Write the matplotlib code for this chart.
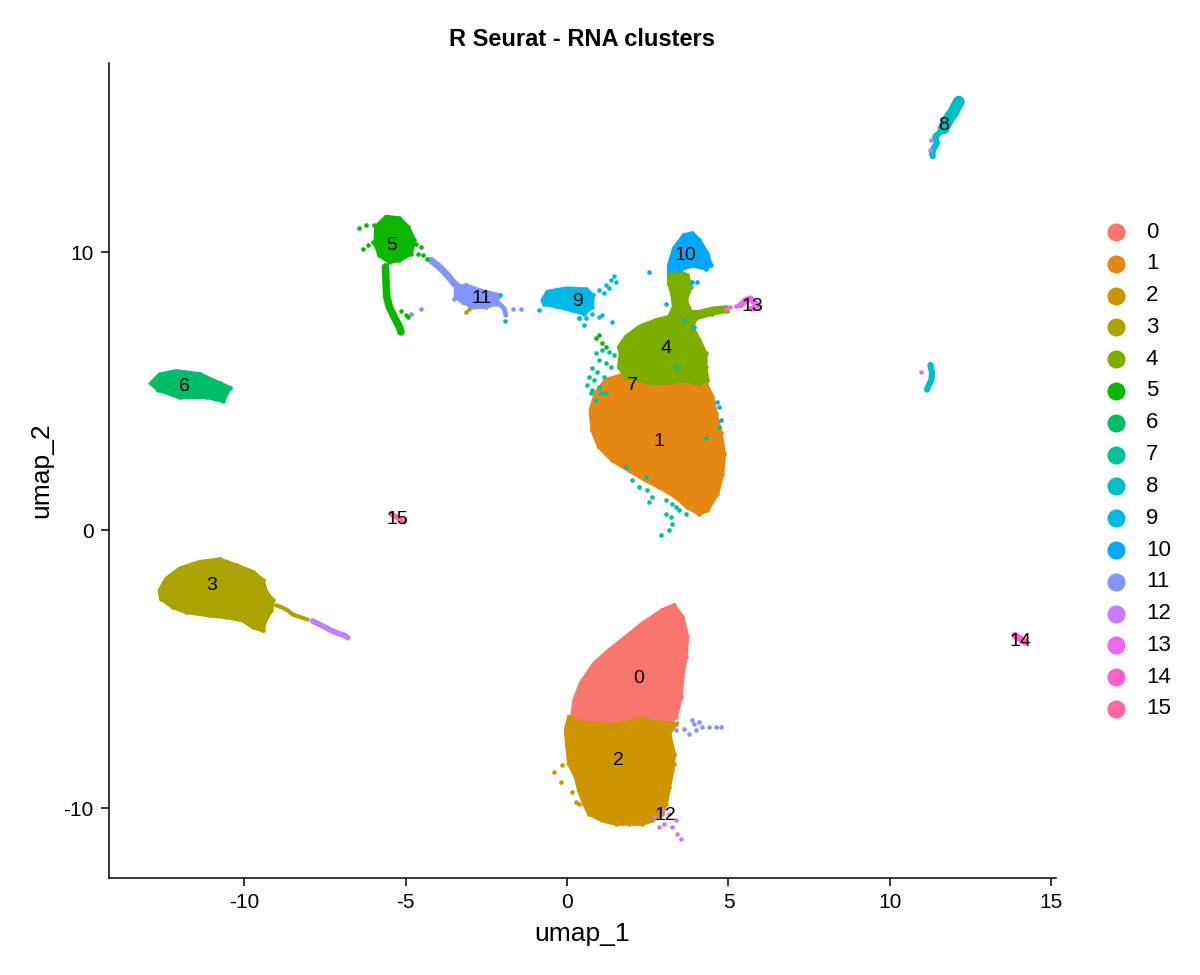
import numpy as np
import matplotlib
matplotlib.use("Agg")
import matplotlib.pyplot as plt
from matplotlib.lines import Line2D

plt.rcParams['font.family'] = ['Liberation Sans', 'DejaVu Sans']
plt.rcParams['axes.unicode_minus'] = False

# ggplot hue palette for 16 clusters
PALETTE = ["#F8766D", "#E68613", "#CD9600", "#ABA300", "#7CAE00", "#0CB702",
           "#00BE67", "#00C19A", "#00BFC4", "#00B8E7", "#00A9FF", "#8494FF",
           "#C77CFF", "#ED68ED", "#FF61CC", "#FF68A1"]
CLUSTERS = [str(i) for i in range(16)]

# cluster label positions (medians)
LABEL_X = [2.23, 2.85, 1.58, -11.02, 3.07, -5.45, -11.86, 2.01, 11.67, 0.31, 3.65, -2.66, 3.03, 5.73, 14.06, -5.26]
LABEL_Y = [-5.32, 3.20, -8.27, -1.98, 6.55, 10.25, 5.18, 5.22, 14.57, 8.24, 9.89, 8.35, -10.25, 8.06, -3.99, 0.40]

# dense region outlines, per cluster
BLOB_0 = [(0.16, -6.72), (0.22, -6.12), (0.42, -5.51), (0.84, -4.79), (1.30, -4.32), (1.82, -3.84),
          (2.33, -3.36), (2.95, -2.88), (3.31, -2.70), (3.57, -3.12), (3.72, -3.84), (3.67, -4.56),
          (3.57, -5.28), (3.52, -6.00), (3.37, -6.72), (3.11, -6.95), (2.75, -6.90), (2.33, -6.77),
          (1.92, -6.90), (1.40, -7.01), (0.78, -6.95), (0.37, -6.90)]
BLOB_1 = [(1.20, 5.40), (1.71, 5.58), (2.33, 5.40), (2.85, 5.28), (3.37, 5.40), (3.88, 5.51),
          (4.29, 5.28), (4.50, 4.79), (4.60, 4.20), (4.76, 3.48), (4.86, 2.76), (4.81, 2.04),
          (4.65, 1.32), (4.34, 0.72), (4.09, 0.60), (3.72, 0.84), (3.37, 1.20), (2.85, 1.56),
          (2.44, 1.80), (1.92, 2.16), (1.40, 2.52), (0.99, 3.00), (0.78, 3.60), (0.73, 4.32), (0.89, 4.92)]
BLOB_2 = [(0.06, -6.72), (0.37, -6.90), (0.78, -6.95), (1.40, -7.01), (1.92, -6.90), (2.33, -6.77),
          (2.75, -6.90), (3.11, -6.95), (3.37, -6.95), (3.16, -7.31), (3.31, -8.03), (3.26, -8.63),
          (3.16, -9.23), (3.06, -9.83), (2.95, -10.19), (2.64, -10.43), (2.33, -10.55), (1.92, -10.55),
          (1.51, -10.55), (1.09, -10.43), (0.68, -10.19), (0.53, -9.83), (0.37, -9.35), (0.27, -8.87),
          (0.06, -8.39), (0.01, -7.79), (-0.04, -7.19)]
BLOB_3 = [(-12.63, -2.16), (-12.42, -1.74), (-12.01, -1.38), (-11.39, -1.14), (-10.77, -1.05),
          (-10.26, -1.26), (-9.74, -1.50), (-9.43, -1.80), (-9.33, -2.22), (-9.12, -2.52), (-9.17, -2.88),
          (-9.38, -3.30), (-9.43, -3.60), (-9.74, -3.48), (-10.05, -3.24), (-10.57, -3.12), (-11.08, -3.06),
          (-11.80, -2.94), (-12.22, -2.76), (-12.58, -2.46)]
BLOB_4 = [(3.16, 9.23), (3.47, 9.29), (3.72, 9.17), (3.83, 8.75), (3.67, 8.27), (3.83, 7.85), (4.09, 7.85),
          (4.50, 7.97), (4.91, 8.01), (4.96, 7.89), (4.50, 7.79), (3.98, 7.62), (3.88, 7.31), (4.09, 6.83),
          (4.29, 6.36), (4.29, 5.87), (4.34, 5.40), (4.09, 5.28), (3.57, 5.40), (3.16, 5.33), (2.64, 5.28),
          (2.23, 5.40), (1.82, 5.51), (1.61, 5.87), (1.66, 6.36), (1.61, 6.59), (1.82, 6.95), (2.23, 7.31),
          (2.75, 7.55), (3.16, 7.67), (3.31, 8.03), (3.26, 8.51), (3.16, 8.87)]
BLOB_5 = [(-5.92, 10.91), (-5.61, 11.27), (-5.20, 11.21), (-4.94, 10.91), (-4.74, 10.43), (-4.84, 9.95),
          (-5.20, 9.71), (-5.51, 9.65), (-5.82, 9.89), (-5.94, 10.31)]
BLOB_6 = [(-12.89, 5.28), (-12.63, 5.60), (-12.11, 5.72), (-11.39, 5.61), (-10.77, 5.28), (-10.46, 5.12),
          (-10.67, 4.65), (-11.19, 4.80), (-12.01, 4.78), (-12.68, 5.06)]
BLOB_9 = [(-0.76, 8.27), (-0.61, 8.57), (-0.04, 8.69), (0.58, 8.66), (0.80, 8.45), (0.76, 8.03),
          (0.53, 7.79), (0.16, 7.91), (-0.35, 8.06), (-0.71, 8.13)]
BLOB_10 = [(3.16, 9.53), (3.31, 10.13), (3.62, 10.61), (3.88, 10.67), (4.09, 10.43), (4.34, 9.95),
           (4.45, 9.53), (4.29, 9.41), (3.88, 9.53), (3.47, 9.35), (3.16, 9.35)]
BLOB_11 = [(-3.45, 8.69), (-3.14, 8.81), (-2.72, 8.63), (-2.31, 8.51), (-2.11, 8.45), (-2.21, 8.15),
           (-2.52, 8.03), (-2.93, 8.03), (-3.24, 8.21), (-3.45, 8.39)]

# thin strands of cells
STRAND_5 = [(-5.63, 9.47), (-5.61, 8.87), (-5.59, 8.39), (-5.51, 8.03), (-5.36, 7.67), (-5.20, 7.31), (-5.15, 7.13)]
STRAND_11 = [(-4.22, 9.71), (-3.96, 9.47), (-3.71, 9.17), (-3.50, 8.87), (-3.29, 8.69), (-3.03, 8.51),
             (-2.72, 8.33), (-2.41, 8.27)]
STRAND_11B = [(-2.41, 8.27), (-2.11, 8.15), (-1.95, 7.97), (-1.90, 7.73)]
STRAND_3 = [(-9.02, -2.70), (-8.81, -2.78), (-8.66, -2.88), (-8.50, -3.03), (-8.35, -3.09), (-8.20, -3.15), (-8.04, -3.21)]
STRAND_12 = [(-7.89, -3.26), (-7.68, -3.38), (-7.47, -3.50), (-7.32, -3.60), (-7.06, -3.72), (-6.90, -3.78), (-6.80, -3.86)]
STRAND_13 = [(5.37, 8.09), (5.53, 8.27), (5.68, 8.33), (5.79, 8.21), (5.94, 8.03), (5.73, 7.97)]
STRAND_15 = [(-5.46, 0.60), (-5.30, 0.48), (-5.15, 0.38), (-5.05, 0.30)]
STRAND_14 = [(13.87, -3.78), (14.05, -3.90), (14.20, -4.02)]
STRAND_8A = [(12.14, 15.41), (12.05, 15.23), (11.98, 15.05), (11.87, 14.87), (11.77, 14.69), (11.67, 14.45)]
STRAND_8B = [(11.67, 14.45), (11.52, 14.27), (11.41, 14.15), (11.46, 13.91), (11.36, 13.73), (11.31, 13.55), (11.33, 13.45)]
STRAND_8C = [(11.26, 5.94), (11.31, 5.64), (11.29, 5.40), (11.21, 5.22), (11.15, 5.06)]

# scattered single cells
PTS_2 = [(-0.40, -8.69), (-0.20, -9.05), (-0.15, -8.45), (0.06, -8.39), (0.16, -9.41), (0.27, -9.77),
         (0.37, -9.83), (0.16, -8.15), (3.31, -8.03), (3.31, -8.39)]
PTS_3 = [(-3.14, 7.85), (-3.03, 7.95)]
PTS_5 = [(-6.44, 10.85), (-6.23, 10.97), (-5.98, 10.97), (-6.34, 10.10), (-6.18, 10.25), (-6.03, 10.37),
         (-4.68, 10.31), (-4.53, 10.17), (-4.63, 9.95), (-4.48, 9.89), (-4.33, 9.77), (-5.15, 7.89),
         (-4.99, 7.73), (-4.94, 7.67), (0.89, 6.90), (0.99, 7.01), (1.09, 6.72), (1.20, 6.59)]
PTS_7 = [(-1.93, 7.53), (-2.08, 8.45), (-0.87, 7.91), (0.37, 7.62),
         (0.89, 6.36), (1.09, 6.47), (1.30, 6.41), (1.46, 6.29), (0.99, 6.12), (1.20, 6.00), (0.78, 5.82),
         (0.94, 5.69), (0.68, 5.51), (0.84, 5.40), (0.63, 5.22), (0.78, 5.04), (0.99, 5.15), (1.15, 5.51),
         (1.35, 5.87), (1.04, 4.92), (1.20, 4.92), (0.89, 4.68), (0.73, 4.92),
         (2.02, 1.80), (2.23, 1.56), (2.49, 1.44), (2.64, 1.20), (2.54, 1.02), (3.06, 1.08), (3.26, 0.96),
         (3.37, 0.84), (3.06, 0.60), (3.21, 0.48), (3.26, 0.24), (3.16, 0.00), (2.90, -0.18), (3.47, 0.72),
         (3.67, 0.60), (2.44, 1.92), (1.82, 2.28),
         (3.06, 8.15), (3.62, 7.55), (3.37, 5.87), (4.29, 3.30), (4.71, 3.72)]
PTS_9 = [(0.99, 8.63), (1.20, 8.81), (1.35, 8.99), (1.46, 9.14), (1.52, 8.92), (1.15, 8.53), (1.30, 8.71),
         (0.58, 7.62), (0.78, 7.79), (0.99, 7.67), (1.09, 7.73), (1.40, 7.49), (0.53, 7.37), (0.37, 7.62)]
PTS_10 = [(2.54, 9.29), (3.88, 8.93), (4.03, 8.93), (3.93, 7.31), (4.65, 4.62), (4.71, 4.44), (4.76, 3.96)]
PTS_11 = [(-3.50, 8.33), (-1.69, 7.97), (-1.43, 7.97), (-4.84, 7.79), (-4.53, 7.94),
          (3.37, -7.19), (3.62, -7.13), (3.78, -7.31), (3.93, -6.95), (4.09, -6.90), (4.19, -7.08),
          (4.40, -7.08), (4.60, -7.08), (4.76, -7.08), (3.88, -6.83), (3.98, -7.19)]
PTS_12 = [(2.69, -10.31), (2.95, -10.07), (3.16, -10.19), (3.37, -10.43), (3.26, -10.67), (3.41, -10.91),
          (3.52, -11.09), (2.85, -10.67), (3.00, -10.55), (10.97, 5.69), (11.29, 14.03), (11.26, 13.67)]
PTS_13 = [(4.91, 7.97), (5.06, 8.01), (5.22, 8.06), (5.37, 8.09)]

BLOBS = [(1, BLOB_1), (4, BLOB_4), (0, BLOB_0), (2, BLOB_2), (3, BLOB_3), (5, BLOB_5),
         (6, BLOB_6), (9, BLOB_9), (10, BLOB_10), (11, BLOB_11)]
STRANDS = [(5, STRAND_5, 5.5), (11, STRAND_11, 5.0), (11, STRAND_11B, 3.5), (3, STRAND_3, 3.0),
           (12, STRAND_12, 4.0), (13, STRAND_13, 4.5), (15, STRAND_15, 4.0), (14, STRAND_14, 5.0),
           (8, STRAND_8A, 8.5), (8, STRAND_8B, 4.5), (8, STRAND_8C, 4.5)]
POINTS = [(7, PTS_7), (2, PTS_2), (3, PTS_3), (5, PTS_5), (9, PTS_9), (10, PTS_10),
          (11, PTS_11), (12, PTS_12), (13, PTS_13)]

fig = plt.figure(figsize=(12, 9.75), dpi=100)
ax = fig.add_axes([0.0908, 0.0995, 0.7892, 0.8359])

for k, poly in BLOBS:
    xy = np.array(poly)
    ax.fill(xy[:, 0], xy[:, 1], color=PALETTE[k], lw=3, ec=PALETTE[k], zorder=2)
    ax.scatter(xy[:, 0], xy[:, 1], s=11, color=PALETTE[k], lw=0, zorder=2)

for k, line, w in STRANDS:
    xy = np.array(line)
    ax.plot(xy[:, 0], xy[:, 1], color=PALETTE[k], lw=w, solid_capstyle='round',
            solid_joinstyle='round', zorder=3)

for k, pts in POINTS:
    xy = np.array(pts)
    ax.scatter(xy[:, 0], xy[:, 1], s=11, color=PALETTE[k], lw=0, zorder=4)

for lab, x, y in zip(CLUSTERS, LABEL_X, LABEL_Y):
    ax.text(x, y, lab, fontsize=14, ha='center', va='center', zorder=6)

ax.set_xlim(-14.2, 15.15)
ax.set_ylim(-12.5, 16.8)
ax.set_xticks([-10, -5, 0, 5, 10, 15])
ax.set_yticks([-10, 0, 10])
ax.tick_params(labelsize=15, length=6, width=1.1, pad=5, colors='black')
for side in ['top', 'right']:
    ax.spines[side].set_visible(False)
for side in ['left', 'bottom']:
    ax.spines[side].set_linewidth(1.1)
ax.set_xlabel('umap_1', fontsize=19, labelpad=7)
ax.set_ylabel('umap_2', fontsize=19, labelpad=7)
ax.set_title('R Seurat - RNA clusters', fontsize=17, fontweight='bold', pad=12)

# legend keys, one row per cluster
for i, (lab, col) in enumerate(zip(CLUSTERS, PALETTE)):
    yk = 1 - (232 + 31.8 * i) / 975
    fig.add_artist(Line2D([1116 / 1200], [yk], ls='none', marker='o', ms=12,
                          mfc=col, mec=col, transform=fig.transFigure))
    fig.text(1146 / 1200, yk, lab, fontsize=16, ha='left', va='center')

fig.savefig('out.png', dpi=100)
